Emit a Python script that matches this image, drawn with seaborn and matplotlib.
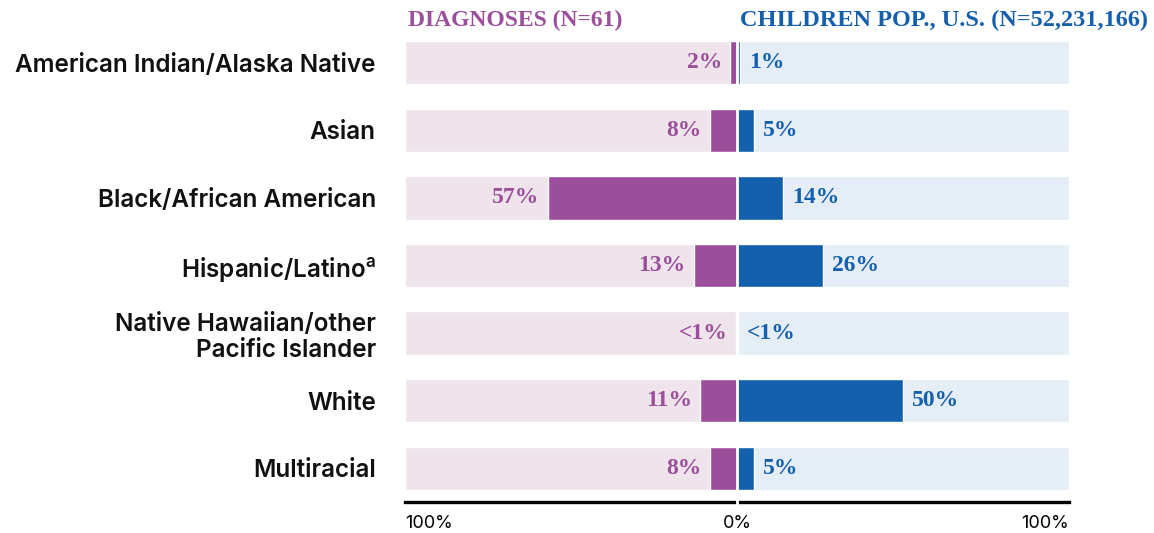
import matplotlib
matplotlib.use("Agg")
import matplotlib.pyplot as plt
import seaborn as sns
import pandas as pd

# ---- data -------------------------------------------------------------
groups = [
    "American Indian/Alaska Native",
    "Asian",
    "Black/African American",
    "Hispanic/Latino$^{\\mathregular{a}}$",
    "Native Hawaiian/other\nPacific Islander",
    "White",
    "Multiracial",
]
diagnoses_pct = [2, 8, 57, 13, 0.2, 11, 8]
population_pct = [1, 5, 14, 26, 0.2, 50, 5]
tick_values = [-100, 0, 100]
tick_labels = ["100%", "0%", "100%"]
left_title = "DIAGNOSES (N=61)"
right_title = "CHILDREN POP., U.S. (N=52,231,166)"

# ---- style ------------------------------------------------------------
PURPLE = "#9B4F9B"
BLUE = "#1560AD"
PURPLE_BG = "#EFE3EC"
BLUE_BG = "#E5EDF7"

sns.set_theme(style="white")
plt.rcParams["font.family"] = ["Inter", "DejaVu Sans"]
plt.rcParams["mathtext.fontset"] = "custom"
plt.rcParams["mathtext.rm"] = "Inter"

SLAB = dict(family="Liberation Serif", fontweight="bold")


def pct_label(v):
    return f"{v:.0f}%" if v >= 1 else "<1%"


df = pd.DataFrame({
    "group": groups,
    "diag": [-v for v in diagnoses_pct],
    "pop": population_pct,
    "bg_left": [-100] * len(groups),
    "bg_right": [100] * len(groups),
})

fig = plt.figure(figsize=(11.54, 5.33), dpi=100)
ax = fig.add_axes([405 / 1154, 1 - 502 / 533, 664 / 1154, 473 / 533])

bar_w = 0.64
sns.barplot(data=df, x="bg_left", y="group", orient="h", color=PURPLE_BG,
            saturation=1, width=bar_w, ax=ax, zorder=1)
sns.barplot(data=df, x="bg_right", y="group", orient="h", color=BLUE_BG,
            saturation=1, width=bar_w, ax=ax, zorder=1)
sns.barplot(data=df, x="diag", y="group", orient="h", color=PURPLE,
            saturation=1, width=bar_w, ax=ax, zorder=3,
            edgecolor="white", linewidth=1.0)
sns.barplot(data=df, x="pop", y="group", orient="h", color=BLUE,
            saturation=1, width=bar_w, ax=ax, zorder=3,
            edgecolor="white", linewidth=1.0)

# white divider down the middle, also splitting the baseline
ax.axvline(0, ymin=-0.012, ymax=1, color="white", lw=2.0, zorder=5,
           clip_on=False)

# value labels
for i, (d, p) in enumerate(zip(diagnoses_pct, population_pct)):
    ax.annotate(pct_label(d), xy=(-d, i), xytext=(-6, 0),
                textcoords="offset points", ha="right", va="center",
                color=PURPLE, fontsize=17, zorder=6, **SLAB)
    ax.annotate(pct_label(p), xy=(p, i), xytext=(6.5, 0),
                textcoords="offset points", ha="left", va="center",
                color=BLUE, fontsize=17, zorder=6, **SLAB)

# column headers
tr = ax.get_xaxis_transform()
ax.text(-99, 1.019, left_title, transform=tr, ha="left", va="center",
        color=PURPLE, fontsize=17, **SLAB)
ax.text(1, 1.019, right_title, transform=tr, ha="left", va="center",
        color=BLUE, fontsize=17.5, **SLAB)

# axes
ax.set_xlim(-100, 100)
ax.set_ylim(6.5, -0.5)
ax.set_xlabel("")
ax.set_ylabel("")
ax.set_xticks(tick_values)
ax.set_xticklabels(tick_labels, fontsize=13, color="black")
for lab, ha in zip(ax.get_xticklabels(), ["left", "center", "right"]):
    lab.set_ha(ha)
ax.tick_params(axis="x", length=0, pad=9)
ax.tick_params(axis="y", length=0, pad=21)
for lab in ax.get_yticklabels():
    lab.set_fontsize(17.5)
    lab.set_fontweight("semibold")
    lab.set_color("#111111")
    lab.set_linespacing(1.2)

for side in ["top", "left", "right"]:
    ax.spines[side].set_visible(False)
ax.spines["bottom"].set_color("black")
ax.spines["bottom"].set_linewidth(2.4)
ax.spines["bottom"].set_zorder(4)

fig.savefig("out.png", dpi=100)
